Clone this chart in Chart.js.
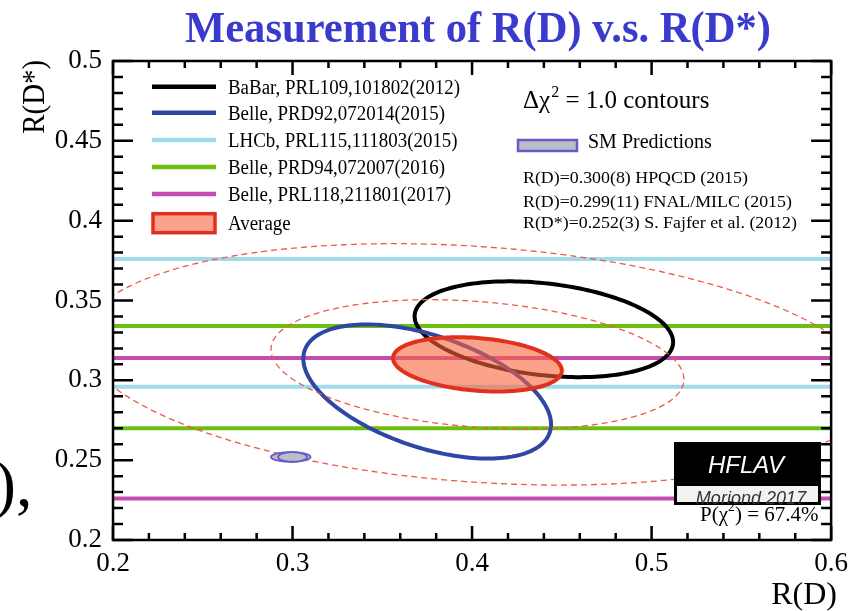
<!DOCTYPE html>
<html>
<head>
<meta charset="utf-8">
<script src="https://cdn.jsdelivr.net/npm/chart.js@4.4.1/dist/chart.umd.min.js"></script>
<style>
  html, body { margin: 0; padding: 0; background: #fff; }
  #wrap { width: 856px; height: 611px; position: relative; }
</style>
</head>
<body>
<div id="wrap"><canvas id="chart" width="856" height="611"></canvas></div>
<script>
// --- data ---------------------------------------------------------------
const categories = ['BaBar, PRL109,101802(2012)', 'Belle, PRD92,072014(2015)', 'LHCb, PRL115,111803(2015)',
                    'Belle, PRD94,072007(2016)', 'Belle, PRL118,211801(2017)', 'Average'];
const rdValues   = [0.440, 0.375, null, null, null, 0.403];
const rdErrors   = [0.072, 0.069, null, null, null, 0.047];
const rdsValues  = [0.332, 0.293, 0.336, 0.302, 0.270, 0.310];
const rdsErrors  = [0.030, 0.042, 0.040, 0.032, 0.044, 0.017];
const rhoValues  = [-0.27, -0.49, null, null, null, -0.23];
const seriesColors = ['#000000', '#2f46a2', '#9fdbe8', '#6cbf0e', '#c24cb0', '#e2301e'];

// larger contours around the average
const contourSx  = [0.115, 0.220];
const contourSy  = [0.0405, 0.0756];
const contourRho = [-0.23, -0.21];

// SM predictions
const smLabels  = ['R(D)=0.300(8) HPQCD (2015)', 'R(D)=0.299(11) FNAL/MILC (2015)', 'R(D*)=0.252(3) S. Fajfer et al. (2012)'];
const smRd      = [0.299, 0.300];
const smRdErr   = [0.011, 0.008];
const smRds     = [0.252, 0.252];
const smRdsErr  = [0.003, 0.003];

const xMin = 0.2, xMax = 0.6, yMin = 0.2, yMax = 0.5;
const xTicks = [0.2, 0.3, 0.4, 0.5, 0.6];
const xTickLabels = ['0.2', '0.3', '0.4', '0.5', '0.6'];
const yTicks = [0.2, 0.25, 0.3, 0.35, 0.4, 0.45, 0.5];
const yTickLabels = ['0.2', '0.25', '0.3', '0.35', '0.4', '0.45', '0.5'];
const xMinorStep = 0.02, yMinorStep = 0.01;

const SERIF = '"Liberation Serif", "Times New Roman", serif';
const SANS = '"Liberation Sans", Arial, sans-serif';

// --- helpers -------------------------------------------------------------
function textW(ctx, txt, font) { ctx.font = font; return ctx.measureText(txt).width; }

// draw text squeezed horizontally by factor f
function sqText(ctx, txt, x, y, font, f, align, color) {
  ctx.save();
  ctx.font = font;
  ctx.fillStyle = color || '#000';
  ctx.textAlign = align || 'left';
  ctx.textBaseline = 'alphabetic';
  ctx.translate(x, y);
  ctx.scale(f, 1);
  ctx.fillText(txt, 0, 0);
  ctx.restore();
}

function traceEllipse(ctx, xs, ys, cx, cy, sx, sy, rho) {
  const q = Math.sqrt(1 - rho * rho);
  const n = 200;
  ctx.beginPath();
  for (let i = 0; i <= n; i++) {
    const t = i / n * Math.PI * 2;
    const px = xs.getPixelForValue(cx + sx * Math.cos(t));
    const py = ys.getPixelForValue(cy + sy * (rho * Math.cos(t) + q * Math.sin(t)));
    if (i === 0) ctx.moveTo(px, py); else ctx.lineTo(px, py);
  }
  ctx.closePath();
}

// --- horizontal bands (R(D*) only measurements) -------------------------
const datasets = [];
rdsValues.forEach(function (v, i) {
  if (rdValues[i] !== null) return;
  [1, -1].forEach(function (s) {
    const yv = v + s * rdsErrors[i];
    datasets.push({
      label: categories[i],
      data: [{ x: xMin, y: yv }, { x: xMax, y: yv }],
      showLine: true,
      borderColor: seriesColors[i],
      borderWidth: 4,
      pointRadius: 0,
      fill: false
    });
  });
});

// --- drawing plugin -----------------------------------------------------
const hflavPlugin = {
  id: 'hflav',
  beforeDraw(chart) {
    const ctx = chart.ctx;
    ctx.save();
    ctx.fillStyle = '#fff';
    ctx.fillRect(0, 0, chart.width, chart.height);
    ctx.restore();
  },
  afterDatasetsDraw(chart) {
    const ctx = chart.ctx, xs = chart.scales.x, ys = chart.scales.y, a = chart.chartArea;
    ctx.save();
    ctx.beginPath();
    ctx.rect(a.left, a.top, a.right - a.left, a.bottom - a.top);
    ctx.clip();

    // measurement ellipses
    [0, 1].forEach(function (i) {
      traceEllipse(ctx, xs, ys, rdValues[i], rdsValues[i], rdErrors[i], rdsErrors[i], rhoValues[i]);
      ctx.strokeStyle = seriesColors[i];
      ctx.lineWidth = 4;
      ctx.stroke();
    });

    // dashed contours of the average
    ctx.setLineDash([6, 4]);
    contourSx.forEach(function (sx, k) {
      traceEllipse(ctx, xs, ys, rdValues[5], rdsValues[5], sx, contourSy[k], contourRho[k]);
      ctx.strokeStyle = '#f0584a';
      ctx.lineWidth = 1.3;
      ctx.stroke();
    });
    ctx.setLineDash([]);

    // average
    traceEllipse(ctx, xs, ys, rdValues[5], rdsValues[5], rdErrors[5], rdsErrors[5], rhoValues[5]);
    ctx.fillStyle = 'rgba(250,100,60,0.6)';
    ctx.fill();
    ctx.strokeStyle = seriesColors[5];
    ctx.lineWidth = 4;
    ctx.stroke();

    // SM predictions
    smRd.forEach(function (v, k) {
      traceEllipse(ctx, xs, ys, v, smRds[k], smRdErr[k], smRdsErr[k], 0);
      ctx.fillStyle = '#b8bfca';
      ctx.fill();
      ctx.strokeStyle = '#6a5ac8';
      ctx.lineWidth = 1.8;
      ctx.stroke();
    });
    ctx.restore();

    // HFLAV box
    ctx.save();
    ctx.fillStyle = '#000';
    ctx.fillRect(674, 442, 147, 63);
    ctx.fillStyle = '#f2f2f2';
    ctx.fillRect(677, 486, 141, 16);
    ctx.restore();
    sqText(ctx, 'HFLAV', 746, 473, 'italic 24px ' + SANS, 1, 'center', '#fff');
    sqText(ctx, 'Moriond 2017', 751, 504, 'italic 19px ' + SANS, 0.95, 'center', '#333');

    // legend
    const lf = '20px ' + SERIF;
    const f = 232 / textW(ctx, categories[0], lf);
    const rows = [86.7, 112.7, 140, 167, 194, 222.7];
    categories.forEach(function (name, i) {
      const yc = rows[i];
      ctx.save();
      if (i < 5) {
        ctx.strokeStyle = seriesColors[i];
        ctx.lineWidth = 4.5;
        ctx.beginPath();
        ctx.moveTo(152, yc);
        ctx.lineTo(216, yc);
        ctx.stroke();
      } else {
        ctx.fillStyle = 'rgba(250,100,60,0.6)';
        ctx.fillRect(153, yc - 9, 62, 19);
        ctx.strokeStyle = seriesColors[5];
        ctx.lineWidth = 3.5;
        ctx.strokeRect(153, yc - 9, 62, 19);
      }
      ctx.restore();
      sqText(ctx, name, 228, yc + 7, lf, f, 'left');
    });

    // right side annotations
    const bf = '25px ' + SERIF, sf = '16px ' + SERIF;
    let x0 = 523;
    sqText(ctx, 'Δχ', x0, 108, bf, 1, 'left');
    x0 += textW(ctx, 'Δχ', bf);
    sqText(ctx, '2', x0 + 1, 97, sf, 1, 'left');
    x0 += textW(ctx, '2', sf) + 1;
    sqText(ctx, ' = 1.0 contours', x0, 108, bf, 1, 'left');

    ctx.save();
    ctx.fillStyle = '#b8bfca';
    ctx.fillRect(518, 140, 59, 11);
    ctx.strokeStyle = '#6a5ac8';
    ctx.lineWidth = 2.5;
    ctx.strokeRect(518, 140, 59, 11);
    ctx.restore();
    sqText(ctx, 'SM Predictions', 588, 148, '20px ' + SERIF, 1, 'left');

    const mf = '17px ' + SERIF;
    const g = 274 / textW(ctx, smLabels[2], mf);
    [183, 207, 228].forEach(function (yb, k) {
      sqText(ctx, smLabels[k], 523, yb, mf, g, 'left');
    });

    // P(chi2)
    const pf = '21px ' + SERIF;
    let px = 700;
    sqText(ctx, 'P(χ', px, 521, pf, 1, 'left');
    px += textW(ctx, 'P(χ', pf);
    sqText(ctx, '2', px, 511, '14px ' + SERIF, 1, 'left');
    px += textW(ctx, '2', '14px ' + SERIF);
    sqText(ctx, ') = 67.4%', px, 521, pf, 1, 'left');
  },
  afterDraw(chart) {
    const ctx = chart.ctx, xs = chart.scales.x, ys = chart.scales.y, a = chart.chartArea;
    ctx.save();
    ctx.strokeStyle = '#000';
    ctx.lineWidth = 2.5;
    ctx.strokeRect(a.left, a.top, a.right - a.left, a.bottom - a.top);
    ctx.lineWidth = 2.5;
    ctx.beginPath();
    // x ticks (inward, both sides)
    for (let v = xMin; v <= xMax + 1e-9; v += xMinorStep) {
      const major = xTicks.some(function (t) { return Math.abs(t - v) < 1e-6; });
      const len = major ? 14 : 7;
      const p = xs.getPixelForValue(v);
      ctx.moveTo(p, a.bottom); ctx.lineTo(p, a.bottom - len);
      ctx.moveTo(p, a.top); ctx.lineTo(p, a.top + len);
    }
    // y ticks
    for (let v = yMin; v <= yMax + 1e-9; v += yMinorStep) {
      const major = yTicks.some(function (t) { return Math.abs(t - v) < 1e-6; });
      const len = major ? 20 : 10;
      const p = ys.getPixelForValue(v);
      ctx.moveTo(a.left, p); ctx.lineTo(a.left + len, p);
      ctx.moveTo(a.right, p); ctx.lineTo(a.right - len, p);
    }
    ctx.stroke();
    ctx.restore();

    // title
    const tf = 'bold 44px ' + SERIF;
    const title = 'Measurement of R(D) v.s. R(D*)';
    sqText(ctx, title, 478, 42, tf, 586 / textW(ctx, title, tf), 'center', '#3a3acc');

    // axis titles
    sqText(ctx, 'R(D)', 837, 604, '32px ' + SERIF, 1, 'right');
    ctx.save();
    ctx.translate(44, 60);
    ctx.rotate(-Math.PI / 2);
    sqText(ctx, 'R(D*)', 0, 0, '31px ' + SERIF, 0.93, 'right');
    ctx.restore();

    // fragment of slide text at the left edge
    sqText(ctx, '),', -6, 506, '66px ' + SERIF, 1, 'left');
  }
};

new Chart(document.getElementById('chart'), {
  type: 'scatter',
  data: { datasets: datasets },
  plugins: [hflavPlugin],
  options: {
    responsive: false,
    animation: false,
    events: [],
    layout: { padding: { top: 61, right: 19, left: 0, bottom: 0 } },
    plugins: { legend: { display: false }, tooltip: { enabled: false }, title: { display: false } },
    scales: {
      x: {
        type: 'linear', min: xMin, max: xMax,
        grid: { display: false, drawTicks: false },
        border: { display: false },
        afterBuildTicks: function (s) { s.ticks = xTicks.map(function (v) { return { value: v }; }); },
        afterFit: function (s) { s.height = 71; },
        ticks: {
          autoSkip: false, maxRotation: 0, padding: 8, color: '#000',
          font: { family: SERIF, size: 27 },
          callback: function (v, i) { return xTickLabels[i]; }
        }
      },
      y: {
        type: 'linear', min: yMin, max: yMax,
        grid: { display: false, drawTicks: false },
        border: { display: false },
        afterBuildTicks: function (s) { s.ticks = yTicks.map(function (v) { return { value: v }; }); },
        afterFit: function (s) { s.width = 113; },
        ticks: {
          autoSkip: false, padding: 11, color: '#000',
          font: { family: SERIF, size: 27 },
          callback: function (v, i) { return yTickLabels[i]; }
        }
      }
    }
  }
});
</script>
</body>
</html>
